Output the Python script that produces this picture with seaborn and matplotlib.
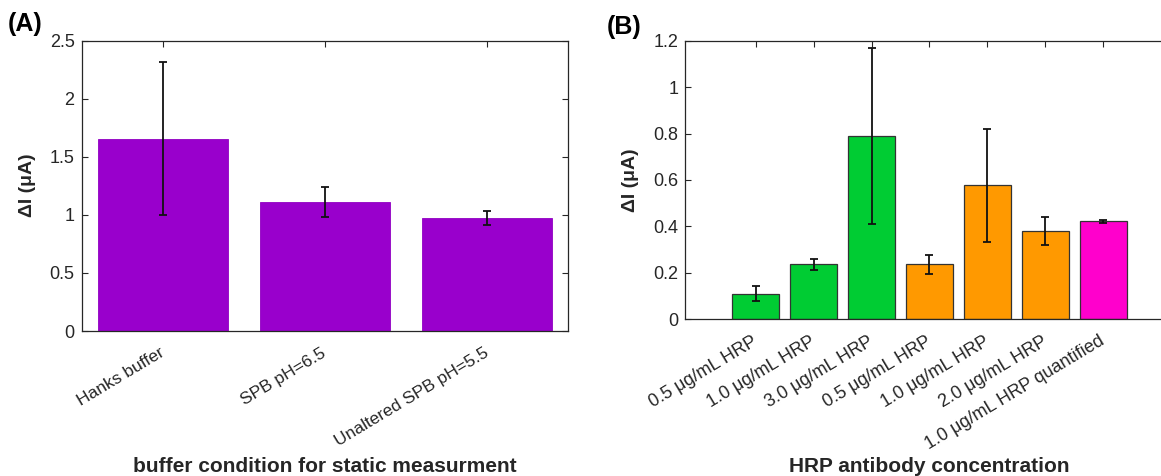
import matplotlib
matplotlib.use("Agg")
import matplotlib.pyplot as plt
import matplotlib.transforms as mtransforms
import seaborn as sns
import pandas as pd
import numpy as np

# ---------- data ----------
a_categories = ["Hanks buffer", "SPB pH=6.5", "Unaltered SPB pH=5.5"]
a_values = [1.655, 1.111, 0.973]
a_errors = [0.66, 0.126, 0.063]
a_colors = ["#9900CC", "#9900CC", "#9900CC"]
a_yticks = [0, 0.5, 1, 1.5, 2, 2.5]
a_yticklabels = ["0", "0.5", "1", "1.5", "2", "2.5"]

b_categories = ["0.5 μg/mL HRP", "1.0 μg/mL HRP", "3.0 μg/mL HRP",
                "0.5 μg/mL HRP", "1.0 μg/mL HRP", "2.0 μg/mL HRP",
                "1.0 μg/mL HRP quantified"]
b_values = [0.111, 0.237, 0.789, 0.237, 0.577, 0.380, 0.422]
b_errors = [0.033, 0.024, 0.378, 0.040, 0.243, 0.062, 0.006]
b_colors = ["#00CC33", "#00CC33", "#00CC33", "#FF9900", "#FF9900", "#FF9900", "#FF00CC"]
b_yticks = [0, 0.2, 0.4, 0.6, 0.8, 1.0, 1.2]
b_yticklabels = ["0", "0.2", "0.4", "0.6", "0.8", "1", "1.2"]

sns.set_theme(style="white")
plt.rcParams["font.family"] = ["Liberation Sans", "DejaVu Sans"]
TXT = "#262626"

W, H = 1161, 476
fig = plt.figure(figsize=(W / 100, H / 100), dpi=100)

def px_axes(left, right, top, bottom):
    return fig.add_axes([left / W, 1 - bottom / H, (right - left) / W, (bottom - top) / H])

axA = px_axes(81.5, 568.3, 40.7, 331)
axB = px_axes(685.4, 1231, 40.7, 319.3)

def draw(ax, cats, vals, errs, cols, yticks, yticklabels, ylim, xlim, edge, lw,
         xlabel, xlabel_x, xlabel_y, xtick_fs):
    keys = [f"k{i}" for i in range(len(cats))]
    df = pd.DataFrame({"key": keys, "val": vals})
    sns.barplot(data=df, x="key", y="val", hue="key", order=keys, hue_order=keys,
                palette=cols, saturation=1, width=0.8, legend=False,
                edgecolor=edge, linewidth=lw, ax=ax, errorbar=None)
    ax.errorbar(np.arange(len(cats)), vals, yerr=errs, fmt="none",
                ecolor="#111111", elinewidth=1.3, capsize=3.2, capthick=1.3, zorder=5)
    ax.set_xlim(*xlim)
    ax.set_ylim(*ylim)
    ax.set_yticks(yticks)
    ax.set_yticklabels(yticklabels, fontsize=13, color=TXT)
    ax.set_xticks(np.arange(len(cats)))
    ax.set_xticklabels(cats, fontsize=xtick_fs, color=TXT, rotation=31,
                       ha="right", va="center", rotation_mode="anchor")
    off = mtransforms.ScaledTranslation(5 / 100, 0, fig.dpi_scale_trans)
    for lab in ax.get_xticklabels():
        lab.set_transform(lab.get_transform() + off)
    ax.tick_params(axis="both", which="both", direction="in", length=4, width=0.8,
                   color=TXT, top=True, right=True, bottom=True, left=True)
    ax.tick_params(axis="y", pad=5)
    ax.tick_params(axis="x", pad=15)
    for s in ax.spines.values():
        s.set_visible(True)
        s.set_color(TXT)
        s.set_linewidth(0.9)
    ax.set_ylabel("ΔI (μA)", fontsize=14, fontweight="bold", color=TXT)
    ax.set_xlabel(xlabel, fontsize=15, fontweight="bold", color=TXT)
    tr = mtransforms.blended_transform_factory(ax.transData, ax.transAxes)
    ax.xaxis.set_label_coords(xlabel_x, xlabel_y, transform=tr)
    ax.xaxis.label.set_va("center")
    ax.grid(False)

draw(axA, a_categories, a_values, a_errors, a_colors, a_yticks, a_yticklabels,
     (0, 2.5), (-0.5, 2.5), "#9100C2", 0.6,
     "buffer condition for static measurment", 1.0, (331 - 466) / 290.3, 12.5)
draw(axB, b_categories, b_values, b_errors, b_colors, b_yticks, b_yticklabels,
     (0, 1.2), (-1.21, 8.2), "#333333", 0.9,
     "HRP antibody concentration", 3.0, (319.3 - 466) / 278.6, 13)

axA.yaxis.set_label_coords(36 / W, 1 - 185 / H, transform=fig.transFigure)
axB.yaxis.set_label_coords(639 / W, 1 - 180 / H, transform=fig.transFigure)

fig.text(8 / W, 1 - 24 / H, "(A)", fontsize=18, fontweight="bold", color="black", va="center", ha="left")
fig.text(607 / W, 1 - 27 / H, "(B)", fontsize=18, fontweight="bold", color="black", va="center", ha="left")

fig.savefig("out.png", dpi=100, facecolor="white")
